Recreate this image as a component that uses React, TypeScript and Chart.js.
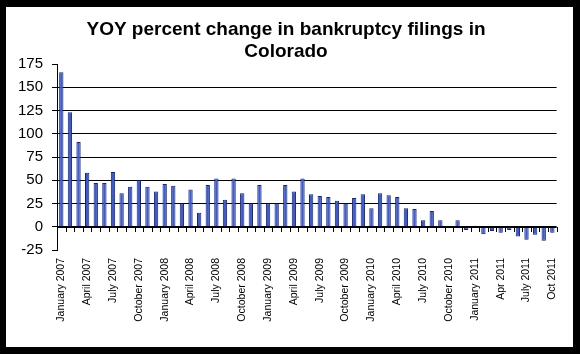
import React, { useEffect, useRef } from "react";
import { Chart, registerables } from "chart.js";

Chart.register(...registerables);

const titleLines = ["YOY percent change in bankruptcy filings in", "Colorado"];

const categories = [
  "January 2007", "February 2007", "March 2007", "April 2007", "May 2007", "June 2007",
  "July 2007", "August 2007", "September 2007", "October 2007", "November 2007", "December 2007",
  "January 2008", "February 2008", "March 2008", "April 2008", "May 2008", "June 2008",
  "July 2008", "August 2008", "September 2008", "October 2008", "November 2008", "December 2008",
  "January 2009", "February 2009", "March 2009", "April 2009", "May 2009", "June 2009",
  "July 2009", "August 2009", "September 2009", "October 2009", "November 2009", "December 2009",
  "January 2010", "February 2010", "March 2010", "April 2010", "May 2010", "June 2010",
  "July 2010", "August 2010", "September 2010", "October 2010", "November 2010", "December 2010",
  "January 2011", "Feb 2011", "Mar 2011", "Apr 2011", "May 2011", "Jun 2011",
  "July 2011", "Aug 2011", "Sep 2011", "Oct 2011",
];

const yoyChange = [
  166, 123, 91, 58, 47, 47, 59, 36, 43, 50, 43, 38,
  46, 44, 25, 40, 15, 45, 52, 29, 52, 36, 25, 45,
  25, 25, 45, 38, 52, 35, 33, 32, 28, 25, 31, 35,
  20, 36, 34, 32, 20, 19, 7, 17, 7, 0, 7, -3.5,
  1, -8, -4.5, -6.5, -3.5, -10.5, -14, -8.5, -15, -6.5,
];

const yMin = -25;
const yMax = 175;
const yStep = 25;

const FONT = "'Liberation Sans', Arial, sans-serif";

const zeroAxisPlugin = {
  id: "zeroAxisTicks",
  afterDatasetsDraw(chart: any) {
    const x = chart.scales.x;
    const y = chart.scales.y;
    const ctx = chart.ctx;
    const y0 = y.getPixelForValue(0);
    const n = chart.data.labels.length;
    const w = (x.right - x.left) / n;
    ctx.save();
    ctx.strokeStyle = "#000";
    ctx.lineWidth = 1;
    ctx.beginPath();
    ctx.moveTo(x.left, Math.round(y0) + 0.5);
    ctx.lineTo(x.right, Math.round(y0) + 0.5);
    for (let i = 0; i <= n; i++) {
      const px = Math.round(x.left + i * w) + 0.5;
      ctx.moveTo(px, Math.round(y0));
      ctx.lineTo(px, Math.round(y0) + 5);
    }
    ctx.stroke();
    ctx.restore();
  },
};

export default function App() {
  const ref = useRef<HTMLCanvasElement | null>(null);

  useEffect(() => {
    if (!ref.current) return;
    const chart = new Chart(ref.current, {
      type: "bar",
      data: {
        labels: categories,
        datasets: [
          {
            data: yoyChange,
            backgroundColor: "#3a5bd8",
            borderColor: "#1c2470",
            borderWidth: 1,
            barPercentage: 0.5,
            categoryPercentage: 1,
          },
        ],
      },
      options: {
        responsive: false,
        animation: false,
        devicePixelRatio: 1,
        layout: { padding: { left: 0, right: 7, top: 0, bottom: 0 } },
        plugins: {
          legend: { display: false },
          tooltip: { enabled: false },
          title: {
            display: true,
            text: titleLines,
            color: "#000",
            font: { family: FONT, size: 19, weight: "bold", lineHeight: 22 / 19 },
            padding: { top: 12, bottom: 1 },
          },
        },
        scales: {
          x: {
            offset: true,
            grid: { display: false, drawTicks: false },
            border: { display: false },
            ticks: {
              autoSkip: false,
              maxRotation: 90,
              minRotation: 90,
              padding: 8,
              color: "#000",
              font: { family: FONT, size: 10.5 },
              callback: function (this: any, value: any, index: number) {
                return index % 3 === 0 ? this.getLabelForValue(value) : null;
              },
            },
            afterFit: (s: any) => {
              s.height = 97;
            },
          },
          y: {
            min: yMin,
            max: yMax,
            ticks: {
              stepSize: yStep,
              color: "#000",
              padding: 9,
              font: { family: FONT, size: 15 },
            },
            grid: {
              color: (c: any) =>
                c.tick && c.tick.value > yMin && c.tick.value < yMax ? "#000" : "rgba(0,0,0,0)",
              tickColor: "#000",
              tickLength: 5,
              lineWidth: 1,
            },
            border: { display: true, color: "#000", width: 1 },
            afterFit: (s: any) => {
              s.width = 51;
            },
          },
        },
      },
      plugins: [zeroAxisPlugin],
    });
    return () => chart.destroy();
  }, []);

  return (
    <div
      style={{
        position: "absolute",
        left: 0,
        top: 0,
        width: 580,
        height: 354,
        background: "#000",
      }}
    >
      <div
        style={{
          position: "absolute",
          left: 6,
          top: 7,
          width: 567,
          height: 340,
          background: "#fff",
        }}
      >
        <canvas ref={ref} width={567} height={340} style={{ display: "block" }} />
      </div>
    </div>
  );
}
